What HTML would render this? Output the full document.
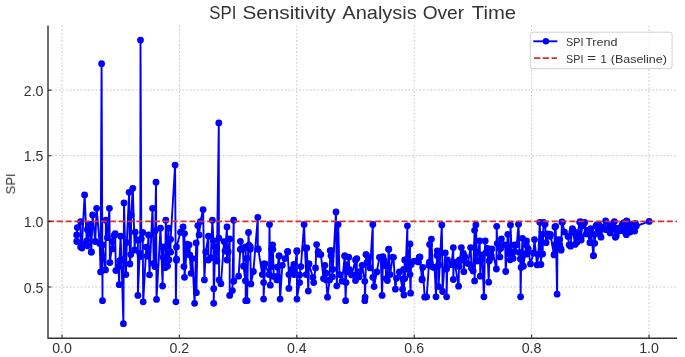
<!DOCTYPE html>
<html><head><meta charset="utf-8"><style>html,body{margin:0;padding:0;background:#fff;}svg{display:block;} text{will-change:transform}</style></head>
<body><svg width="685" height="357" viewBox="0 0 685 357">
<rect width="685" height="357" fill="#fff"/>
<path d="M62.0 25.5V338.2M179.4 25.5V338.2M296.8 25.5V338.2M414.2 25.5V338.2M531.6 25.5V338.2M649.0 25.5V338.2M48 287.0H677M48 221.4H677M48 155.7H677M48 90.1H677" stroke="#cbcbcb" stroke-width="1.0" stroke-dasharray="1.85 1.79" fill="none"/>
<polyline points="76.7,234.9 76.7,241.5 77.3,227.6 80.6,221.6 80.6,246.9 82.0,248.0 82.0,244.1 84.6,195.0 86.7,240.8 87.3,229.6 87.5,245.8 90.0,224.2 91.3,252.0 91.3,252.2 92.6,214.9 95.3,241.5 96.6,208.3 99.7,243.6 100.6,271.9 101.6,63.7 102.5,300.7 102.6,245.0 105.5,269.9 105.9,220.2 107.4,237.7 109.4,208.3 109.9,262.6 112.6,241.5 112.7,248.9 114.2,235.4 115.2,233.6 115.8,270.6 118.4,266.7 119.2,284.7 119.5,261.0 120.6,236.2 121.5,259.4 123.4,323.7 124.0,202.9 125.9,274.6 126.8,242.6 129.1,192.3 129.9,264.0 130.7,254.6 131.2,214.9 132.8,188.3 134.7,250.0 135.2,232.2 137.9,240.2 137.9,295.4 139.7,253.3 140.3,256.5 140.5,40.1 141.3,238.9 142.7,232.5 143.2,301.8 146.3,247.1 147.2,256.0 148.5,234.9 149.5,274.8 152.5,208.3 153.8,263.4 155.0,266.7 155.2,230.9 156.0,182.2 156.5,299.4 160.5,228.2 162.6,286.0 163.2,246.9 163.2,257.3 165.1,267.7 165.8,220.2 167.6,266.1 168.5,228.2 169.0,260.0 169.4,251.2 170.6,252.2 170.6,239.3 175.1,165.1 175.9,301.8 176.5,259.2 176.5,260.2 176.5,247.1 180.5,232.2 183.1,226.9 183.9,266.6 184.5,233.6 184.5,277.3 186.9,249.1 187.1,244.2 187.1,250.6 189.1,245.0 189.8,254.9 191.1,273.3 192.4,258.6 194.6,303.3 196.2,242.9 196.4,292.7 197.8,225.6 199.1,234.9 200.4,221.6 203.1,209.6 204.4,279.9 205.7,252.0 208.4,236.2 208.4,260.0 210.7,257.7 212.4,220.2 213.4,240.8 213.7,288.7 213.7,303.3 215.1,246.9 216.6,248.4 216.9,261.0 218.8,122.9 218.9,238.1 219.1,279.9 220.9,283.7 224.1,241.6 225.0,251.1 227.0,226.9 227.0,260.0 228.2,251.9 229.7,238.9 229.7,295.4 232.4,290.6 233.7,220.2 233.7,281.3 238.6,276.2 240.3,249.5 240.4,241.3 243.0,249.3 243.5,266.2 245.4,280.8 245.7,246.9 245.7,300.7 246.7,258.5 247.1,300.7 248.5,232.5 249.0,245.2 250.3,246.7 250.3,249.2 250.9,283.9 253.4,271.5 257.8,217.3 257.8,248.7 258.3,249.3 262.3,274.6 263.6,264.0 263.6,282.6 263.6,299.1 265.0,263.9 269.0,274.6 269.5,224.5 270.3,285.2 271.6,249.2 271.6,266.6 272.6,244.8 272.9,249.3 273.8,276.4 276.9,279.9 277.4,276.7 277.5,267.2 279.1,255.9 279.1,256.0 280.1,299.1 282.3,265.3 284.9,258.6 287.6,251.4 287.6,252.0 288.9,274.6 288.9,288.4 291.6,269.3 293.6,271.3 293.9,264.5 294.2,274.6 296.9,250.6 296.9,251.4 296.9,299.1 299.6,282.6 299.6,275.0 300.9,266.6 304.1,224.5 304.9,248.0 306.2,274.6 306.8,247.9 308.3,291.1 308.9,263.9 308.9,264.0 312.9,277.3 313.7,282.6 315.5,267.9 316.6,244.6 318.2,251.9 318.2,252.0 318.4,254.2 320.9,254.6 323.5,278.6 324.9,265.3 326.0,273.2 326.2,279.9 327.5,297.2 329.6,279.9 330.2,250.6 331.0,255.7 331.5,250.6 332.4,276.8 332.8,269.3 336.0,212.0 336.8,285.8 338.2,224.5 339.5,274.6 342.1,281.2 344.8,255.9 344.8,256.0 345.6,300.7 346.1,282.6 346.4,264.6 347.5,271.9 348.8,257.2 349.2,269.4 351.6,274.9 355.5,259.9 355.5,280.5 356.8,258.6 356.8,274.6 359.2,276.8 359.5,271.6 362.1,265.3 364.8,281.3 364.8,300.7 365.1,297.2 366.1,254.6 366.1,254.6 366.9,262.6 368.8,257.2 370.1,267.9 372.8,224.5 372.8,277.3 374.1,286.6 376.8,271.9 379.4,257.3 380.7,257.2 382.1,295.4 383.0,256.7 384.1,260.3 384.7,265.3 385.6,265.5 386.1,278.6 387.4,280.6 388.7,249.2 388.7,249.3 390.1,274.6 392.7,257.2 393.5,257.3 395.4,289.2 396.5,278.3 399.4,271.9 402.6,289.2 403.2,278.8 403.6,269.3 403.9,295.0 404.7,259.9 404.7,278.6 406.0,260.0 407.4,225.8 407.4,269.2 410.0,243.9 410.0,274.6 410.6,293.2 411.0,264.7 414.0,261.2 418.4,261.9 419.3,257.2 419.3,257.3 420.0,256.9 422.0,279.9 422.1,279.0 422.7,267.5 424.7,297.2 426.7,296.8 428.9,265.2 429.3,262.2 429.6,244.5 430.2,263.0 431.4,239.1 432.7,267.0 434.6,267.5 436.0,296.8 437.0,255.5 437.3,250.8 438.6,264.9 438.6,286.6 441.8,225.0 442.6,291.5 445.3,252.9 446.6,268.9 446.6,296.8 447.5,259.8 451.5,264.7 453.3,247.6 453.3,279.5 453.8,262.1 455.0,264.3 458.6,286.2 459.0,266.4 459.4,260.0 459.9,260.9 461.3,247.6 463.4,253.5 463.8,271.7 464.8,256.7 467.9,263.6 470.6,247.6 471.6,268.2 471.7,268.1 473.1,271.0 474.6,230.3 474.6,280.9 475.9,225.0 477.1,260.8 477.2,260.9 479.7,240.8 480.3,276.2 481.0,259.7 482.2,254.8 483.9,296.8 485.2,240.9 486.1,252.5 487.4,248.3 488.7,282.2 489.2,260.9 490.1,255.8 491.0,257.6 491.1,254.8 491.9,248.9 496.4,269.0 496.7,226.3 497.2,243.6 499.9,256.9 500.6,248.4 501.4,238.8 505.2,244.9 505.7,271.5 507.8,234.3 508.9,253.9 510.2,259.8 510.5,225.0 511.8,256.9 513.1,258.4 514.5,244.9 514.7,251.6 516.8,244.8 518.5,224.2 519.6,252.6 520.4,259.0 520.6,296.8 521.1,267.5 522.5,238.3 523.4,266.2 526.3,245.3 526.5,240.9 526.5,254.2 526.7,253.3 528.2,248.9 530.5,263.9 533.4,253.2 534.5,239.6 537.1,264.9 538.4,254.2 539.8,222.3 540.9,264.5 542.4,234.3 542.6,254.0 543.5,222.5 545.1,224.2 546.1,242.7 547.9,233.9 550.1,236.4 550.4,234.3 554.0,254.9 554.4,254.2 554.9,226.9 554.9,244.8 555.7,226.3 557.1,294.2 557.5,240.0 559.7,239.6 559.7,244.8 561.0,248.8 561.1,250.2 561.9,222.0 562.4,222.3 564.5,232.1 568.0,236.5 569.1,244.9 570.6,246.2 571.8,232.0 572.4,228.6 572.6,231.2 573.0,230.3 575.0,244.4 575.2,232.7 577.0,242.3 577.7,233.0 579.7,222.3 580.3,221.6 581.0,236.9 581.2,240.0 582.0,226.0 583.7,223.6 584.7,222.5 586.4,233.9 587.2,230.3 589.9,242.7 590.3,230.3 590.8,228.6 593.4,255.8 593.5,255.6 594.3,234.3 594.7,243.3 596.0,226.0 597.0,225.0 598.9,224.9 599.2,229.7 599.5,233.9 599.7,230.3 601.0,237.2 601.3,226.9 601.9,228.9 605.7,220.8 605.7,229.5 606.5,229.5 607.3,228.8 609.3,229.4 609.9,225.5 610.1,233.0 610.9,227.8 611.2,229.0 611.9,229.5 613.6,226.9 614.4,221.6 615.4,237.3 616.3,235.8 617.6,228.7 619.6,229.9 619.7,227.8 620.0,230.8 621.2,229.9 622.3,224.3 623.2,230.4 624.0,222.7 624.0,230.9 625.1,232.1 626.3,234.7 626.7,220.8 627.3,222.0 627.6,226.0 628.3,226.1 630.2,232.1 631.9,225.9 632.8,224.3 633.9,228.0 634.7,231.1 635.4,223.4 636.3,226.0 649.2,221.4" fill="none" stroke="#0000ff" stroke-width="1.9" stroke-linejoin="round"/>
<g fill="#0000ff"><circle cx="76.7" cy="234.9" r="3.4"/><circle cx="76.7" cy="241.5" r="3.4"/><circle cx="77.3" cy="227.6" r="3.4"/><circle cx="80.6" cy="221.6" r="3.4"/><circle cx="80.6" cy="246.9" r="3.4"/><circle cx="82.0" cy="248.0" r="3.4"/><circle cx="82.0" cy="244.1" r="3.4"/><circle cx="84.6" cy="195.0" r="3.4"/><circle cx="86.7" cy="240.8" r="3.4"/><circle cx="87.3" cy="229.6" r="3.4"/><circle cx="87.5" cy="245.8" r="3.4"/><circle cx="90.0" cy="224.2" r="3.4"/><circle cx="91.3" cy="252.0" r="3.4"/><circle cx="91.3" cy="252.2" r="3.4"/><circle cx="92.6" cy="214.9" r="3.4"/><circle cx="95.3" cy="241.5" r="3.4"/><circle cx="96.6" cy="208.3" r="3.4"/><circle cx="99.7" cy="243.6" r="3.4"/><circle cx="100.6" cy="271.9" r="3.4"/><circle cx="101.6" cy="63.7" r="3.4"/><circle cx="102.5" cy="300.7" r="3.4"/><circle cx="102.6" cy="245.0" r="3.4"/><circle cx="105.5" cy="269.9" r="3.4"/><circle cx="105.9" cy="220.2" r="3.4"/><circle cx="107.4" cy="237.7" r="3.4"/><circle cx="109.4" cy="208.3" r="3.4"/><circle cx="109.9" cy="262.6" r="3.4"/><circle cx="112.6" cy="241.5" r="3.4"/><circle cx="112.7" cy="248.9" r="3.4"/><circle cx="114.2" cy="235.4" r="3.4"/><circle cx="115.2" cy="233.6" r="3.4"/><circle cx="115.8" cy="270.6" r="3.4"/><circle cx="118.4" cy="266.7" r="3.4"/><circle cx="119.2" cy="284.7" r="3.4"/><circle cx="119.5" cy="261.0" r="3.4"/><circle cx="120.6" cy="236.2" r="3.4"/><circle cx="121.5" cy="259.4" r="3.4"/><circle cx="123.4" cy="323.7" r="3.4"/><circle cx="124.0" cy="202.9" r="3.4"/><circle cx="125.9" cy="274.6" r="3.4"/><circle cx="126.8" cy="242.6" r="3.4"/><circle cx="129.1" cy="192.3" r="3.4"/><circle cx="129.9" cy="264.0" r="3.4"/><circle cx="130.7" cy="254.6" r="3.4"/><circle cx="131.2" cy="214.9" r="3.4"/><circle cx="132.8" cy="188.3" r="3.4"/><circle cx="134.7" cy="250.0" r="3.4"/><circle cx="135.2" cy="232.2" r="3.4"/><circle cx="137.9" cy="240.2" r="3.4"/><circle cx="137.9" cy="295.4" r="3.4"/><circle cx="139.7" cy="253.3" r="3.4"/><circle cx="140.3" cy="256.5" r="3.4"/><circle cx="140.5" cy="40.1" r="3.4"/><circle cx="141.3" cy="238.9" r="3.4"/><circle cx="142.7" cy="232.5" r="3.4"/><circle cx="143.2" cy="301.8" r="3.4"/><circle cx="146.3" cy="247.1" r="3.4"/><circle cx="147.2" cy="256.0" r="3.4"/><circle cx="148.5" cy="234.9" r="3.4"/><circle cx="149.5" cy="274.8" r="3.4"/><circle cx="152.5" cy="208.3" r="3.4"/><circle cx="153.8" cy="263.4" r="3.4"/><circle cx="155.0" cy="266.7" r="3.4"/><circle cx="155.2" cy="230.9" r="3.4"/><circle cx="156.0" cy="182.2" r="3.4"/><circle cx="156.5" cy="299.4" r="3.4"/><circle cx="160.5" cy="228.2" r="3.4"/><circle cx="162.6" cy="286.0" r="3.4"/><circle cx="163.2" cy="246.9" r="3.4"/><circle cx="163.2" cy="257.3" r="3.4"/><circle cx="165.1" cy="267.7" r="3.4"/><circle cx="165.8" cy="220.2" r="3.4"/><circle cx="167.6" cy="266.1" r="3.4"/><circle cx="168.5" cy="228.2" r="3.4"/><circle cx="169.0" cy="260.0" r="3.4"/><circle cx="169.4" cy="251.2" r="3.4"/><circle cx="170.6" cy="252.2" r="3.4"/><circle cx="170.6" cy="239.3" r="3.4"/><circle cx="175.1" cy="165.1" r="3.4"/><circle cx="175.9" cy="301.8" r="3.4"/><circle cx="176.5" cy="259.2" r="3.4"/><circle cx="176.5" cy="260.2" r="3.4"/><circle cx="176.5" cy="247.1" r="3.4"/><circle cx="180.5" cy="232.2" r="3.4"/><circle cx="183.1" cy="226.9" r="3.4"/><circle cx="183.9" cy="266.6" r="3.4"/><circle cx="184.5" cy="233.6" r="3.4"/><circle cx="184.5" cy="277.3" r="3.4"/><circle cx="186.9" cy="249.1" r="3.4"/><circle cx="187.1" cy="244.2" r="3.4"/><circle cx="187.1" cy="250.6" r="3.4"/><circle cx="189.1" cy="245.0" r="3.4"/><circle cx="189.8" cy="254.9" r="3.4"/><circle cx="191.1" cy="273.3" r="3.4"/><circle cx="192.4" cy="258.6" r="3.4"/><circle cx="194.6" cy="303.3" r="3.4"/><circle cx="196.2" cy="242.9" r="3.4"/><circle cx="196.4" cy="292.7" r="3.4"/><circle cx="197.8" cy="225.6" r="3.4"/><circle cx="199.1" cy="234.9" r="3.4"/><circle cx="200.4" cy="221.6" r="3.4"/><circle cx="203.1" cy="209.6" r="3.4"/><circle cx="204.4" cy="279.9" r="3.4"/><circle cx="205.7" cy="252.0" r="3.4"/><circle cx="208.4" cy="236.2" r="3.4"/><circle cx="208.4" cy="260.0" r="3.4"/><circle cx="210.7" cy="257.7" r="3.4"/><circle cx="212.4" cy="220.2" r="3.4"/><circle cx="213.4" cy="240.8" r="3.4"/><circle cx="213.7" cy="288.7" r="3.4"/><circle cx="213.7" cy="303.3" r="3.4"/><circle cx="215.1" cy="246.9" r="3.4"/><circle cx="216.6" cy="248.4" r="3.4"/><circle cx="216.9" cy="261.0" r="3.4"/><circle cx="218.8" cy="122.9" r="3.4"/><circle cx="218.9" cy="238.1" r="3.4"/><circle cx="219.1" cy="279.9" r="3.4"/><circle cx="220.9" cy="283.7" r="3.4"/><circle cx="224.1" cy="241.6" r="3.4"/><circle cx="225.0" cy="251.1" r="3.4"/><circle cx="227.0" cy="226.9" r="3.4"/><circle cx="227.0" cy="260.0" r="3.4"/><circle cx="228.2" cy="251.9" r="3.4"/><circle cx="229.7" cy="238.9" r="3.4"/><circle cx="229.7" cy="295.4" r="3.4"/><circle cx="232.4" cy="290.6" r="3.4"/><circle cx="233.7" cy="220.2" r="3.4"/><circle cx="233.7" cy="281.3" r="3.4"/><circle cx="238.6" cy="276.2" r="3.4"/><circle cx="240.3" cy="249.5" r="3.4"/><circle cx="240.4" cy="241.3" r="3.4"/><circle cx="243.0" cy="249.3" r="3.4"/><circle cx="243.5" cy="266.2" r="3.4"/><circle cx="245.4" cy="280.8" r="3.4"/><circle cx="245.7" cy="246.9" r="3.4"/><circle cx="245.7" cy="300.7" r="3.4"/><circle cx="246.7" cy="258.5" r="3.4"/><circle cx="247.1" cy="300.7" r="3.4"/><circle cx="248.5" cy="232.5" r="3.4"/><circle cx="249.0" cy="245.2" r="3.4"/><circle cx="250.3" cy="246.7" r="3.4"/><circle cx="250.3" cy="249.2" r="3.4"/><circle cx="250.9" cy="283.9" r="3.4"/><circle cx="253.4" cy="271.5" r="3.4"/><circle cx="257.8" cy="217.3" r="3.4"/><circle cx="257.8" cy="248.7" r="3.4"/><circle cx="258.3" cy="249.3" r="3.4"/><circle cx="262.3" cy="274.6" r="3.4"/><circle cx="263.6" cy="264.0" r="3.4"/><circle cx="263.6" cy="282.6" r="3.4"/><circle cx="263.6" cy="299.1" r="3.4"/><circle cx="265.0" cy="263.9" r="3.4"/><circle cx="269.0" cy="274.6" r="3.4"/><circle cx="269.5" cy="224.5" r="3.4"/><circle cx="270.3" cy="285.2" r="3.4"/><circle cx="271.6" cy="249.2" r="3.4"/><circle cx="271.6" cy="266.6" r="3.4"/><circle cx="272.6" cy="244.8" r="3.4"/><circle cx="272.9" cy="249.3" r="3.4"/><circle cx="273.8" cy="276.4" r="3.4"/><circle cx="276.9" cy="279.9" r="3.4"/><circle cx="277.4" cy="276.7" r="3.4"/><circle cx="277.5" cy="267.2" r="3.4"/><circle cx="279.1" cy="255.9" r="3.4"/><circle cx="279.1" cy="256.0" r="3.4"/><circle cx="280.1" cy="299.1" r="3.4"/><circle cx="282.3" cy="265.3" r="3.4"/><circle cx="284.9" cy="258.6" r="3.4"/><circle cx="287.6" cy="251.4" r="3.4"/><circle cx="287.6" cy="252.0" r="3.4"/><circle cx="288.9" cy="274.6" r="3.4"/><circle cx="288.9" cy="288.4" r="3.4"/><circle cx="291.6" cy="269.3" r="3.4"/><circle cx="293.6" cy="271.3" r="3.4"/><circle cx="293.9" cy="264.5" r="3.4"/><circle cx="294.2" cy="274.6" r="3.4"/><circle cx="296.9" cy="250.6" r="3.4"/><circle cx="296.9" cy="251.4" r="3.4"/><circle cx="296.9" cy="299.1" r="3.4"/><circle cx="299.6" cy="282.6" r="3.4"/><circle cx="299.6" cy="275.0" r="3.4"/><circle cx="300.9" cy="266.6" r="3.4"/><circle cx="304.1" cy="224.5" r="3.4"/><circle cx="304.9" cy="248.0" r="3.4"/><circle cx="306.2" cy="274.6" r="3.4"/><circle cx="306.8" cy="247.9" r="3.4"/><circle cx="308.3" cy="291.1" r="3.4"/><circle cx="308.9" cy="263.9" r="3.4"/><circle cx="308.9" cy="264.0" r="3.4"/><circle cx="312.9" cy="277.3" r="3.4"/><circle cx="313.7" cy="282.6" r="3.4"/><circle cx="315.5" cy="267.9" r="3.4"/><circle cx="316.6" cy="244.6" r="3.4"/><circle cx="318.2" cy="251.9" r="3.4"/><circle cx="318.2" cy="252.0" r="3.4"/><circle cx="318.4" cy="254.2" r="3.4"/><circle cx="320.9" cy="254.6" r="3.4"/><circle cx="323.5" cy="278.6" r="3.4"/><circle cx="324.9" cy="265.3" r="3.4"/><circle cx="326.0" cy="273.2" r="3.4"/><circle cx="326.2" cy="279.9" r="3.4"/><circle cx="327.5" cy="297.2" r="3.4"/><circle cx="329.6" cy="279.9" r="3.4"/><circle cx="330.2" cy="250.6" r="3.4"/><circle cx="331.0" cy="255.7" r="3.4"/><circle cx="331.5" cy="250.6" r="3.4"/><circle cx="332.4" cy="276.8" r="3.4"/><circle cx="332.8" cy="269.3" r="3.4"/><circle cx="336.0" cy="212.0" r="3.4"/><circle cx="336.8" cy="285.8" r="3.4"/><circle cx="338.2" cy="224.5" r="3.4"/><circle cx="339.5" cy="274.6" r="3.4"/><circle cx="342.1" cy="281.2" r="3.4"/><circle cx="344.8" cy="255.9" r="3.4"/><circle cx="344.8" cy="256.0" r="3.4"/><circle cx="345.6" cy="300.7" r="3.4"/><circle cx="346.1" cy="282.6" r="3.4"/><circle cx="346.4" cy="264.6" r="3.4"/><circle cx="347.5" cy="271.9" r="3.4"/><circle cx="348.8" cy="257.2" r="3.4"/><circle cx="349.2" cy="269.4" r="3.4"/><circle cx="351.6" cy="274.9" r="3.4"/><circle cx="355.5" cy="259.9" r="3.4"/><circle cx="355.5" cy="280.5" r="3.4"/><circle cx="356.8" cy="258.6" r="3.4"/><circle cx="356.8" cy="274.6" r="3.4"/><circle cx="359.2" cy="276.8" r="3.4"/><circle cx="359.5" cy="271.6" r="3.4"/><circle cx="362.1" cy="265.3" r="3.4"/><circle cx="364.8" cy="281.3" r="3.4"/><circle cx="364.8" cy="300.7" r="3.4"/><circle cx="365.1" cy="297.2" r="3.4"/><circle cx="366.1" cy="254.6" r="3.4"/><circle cx="366.1" cy="254.6" r="3.4"/><circle cx="366.9" cy="262.6" r="3.4"/><circle cx="368.8" cy="257.2" r="3.4"/><circle cx="370.1" cy="267.9" r="3.4"/><circle cx="372.8" cy="224.5" r="3.4"/><circle cx="372.8" cy="277.3" r="3.4"/><circle cx="374.1" cy="286.6" r="3.4"/><circle cx="376.8" cy="271.9" r="3.4"/><circle cx="379.4" cy="257.3" r="3.4"/><circle cx="380.7" cy="257.2" r="3.4"/><circle cx="382.1" cy="295.4" r="3.4"/><circle cx="383.0" cy="256.7" r="3.4"/><circle cx="384.1" cy="260.3" r="3.4"/><circle cx="384.7" cy="265.3" r="3.4"/><circle cx="385.6" cy="265.5" r="3.4"/><circle cx="386.1" cy="278.6" r="3.4"/><circle cx="387.4" cy="280.6" r="3.4"/><circle cx="388.7" cy="249.2" r="3.4"/><circle cx="388.7" cy="249.3" r="3.4"/><circle cx="390.1" cy="274.6" r="3.4"/><circle cx="392.7" cy="257.2" r="3.4"/><circle cx="393.5" cy="257.3" r="3.4"/><circle cx="395.4" cy="289.2" r="3.4"/><circle cx="396.5" cy="278.3" r="3.4"/><circle cx="399.4" cy="271.9" r="3.4"/><circle cx="402.6" cy="289.2" r="3.4"/><circle cx="403.2" cy="278.8" r="3.4"/><circle cx="403.6" cy="269.3" r="3.4"/><circle cx="403.9" cy="295.0" r="3.4"/><circle cx="404.7" cy="259.9" r="3.4"/><circle cx="404.7" cy="278.6" r="3.4"/><circle cx="406.0" cy="260.0" r="3.4"/><circle cx="407.4" cy="225.8" r="3.4"/><circle cx="407.4" cy="269.2" r="3.4"/><circle cx="410.0" cy="243.9" r="3.4"/><circle cx="410.0" cy="274.6" r="3.4"/><circle cx="410.6" cy="293.2" r="3.4"/><circle cx="411.0" cy="264.7" r="3.4"/><circle cx="414.0" cy="261.2" r="3.4"/><circle cx="418.4" cy="261.9" r="3.4"/><circle cx="419.3" cy="257.2" r="3.4"/><circle cx="419.3" cy="257.3" r="3.4"/><circle cx="420.0" cy="256.9" r="3.4"/><circle cx="422.0" cy="279.9" r="3.4"/><circle cx="422.1" cy="279.0" r="3.4"/><circle cx="422.7" cy="267.5" r="3.4"/><circle cx="424.7" cy="297.2" r="3.4"/><circle cx="426.7" cy="296.8" r="3.4"/><circle cx="428.9" cy="265.2" r="3.4"/><circle cx="429.3" cy="262.2" r="3.4"/><circle cx="429.6" cy="244.5" r="3.4"/><circle cx="430.2" cy="263.0" r="3.4"/><circle cx="431.4" cy="239.1" r="3.4"/><circle cx="432.7" cy="267.0" r="3.4"/><circle cx="434.6" cy="267.5" r="3.4"/><circle cx="436.0" cy="296.8" r="3.4"/><circle cx="437.0" cy="255.5" r="3.4"/><circle cx="437.3" cy="250.8" r="3.4"/><circle cx="438.6" cy="264.9" r="3.4"/><circle cx="438.6" cy="286.6" r="3.4"/><circle cx="441.8" cy="225.0" r="3.4"/><circle cx="442.6" cy="291.5" r="3.4"/><circle cx="445.3" cy="252.9" r="3.4"/><circle cx="446.6" cy="268.9" r="3.4"/><circle cx="446.6" cy="296.8" r="3.4"/><circle cx="447.5" cy="259.8" r="3.4"/><circle cx="451.5" cy="264.7" r="3.4"/><circle cx="453.3" cy="247.6" r="3.4"/><circle cx="453.3" cy="279.5" r="3.4"/><circle cx="453.8" cy="262.1" r="3.4"/><circle cx="455.0" cy="264.3" r="3.4"/><circle cx="458.6" cy="286.2" r="3.4"/><circle cx="459.0" cy="266.4" r="3.4"/><circle cx="459.4" cy="260.0" r="3.4"/><circle cx="459.9" cy="260.9" r="3.4"/><circle cx="461.3" cy="247.6" r="3.4"/><circle cx="463.4" cy="253.5" r="3.4"/><circle cx="463.8" cy="271.7" r="3.4"/><circle cx="464.8" cy="256.7" r="3.4"/><circle cx="467.9" cy="263.6" r="3.4"/><circle cx="470.6" cy="247.6" r="3.4"/><circle cx="471.6" cy="268.2" r="3.4"/><circle cx="471.7" cy="268.1" r="3.4"/><circle cx="473.1" cy="271.0" r="3.4"/><circle cx="474.6" cy="230.3" r="3.4"/><circle cx="474.6" cy="280.9" r="3.4"/><circle cx="475.9" cy="225.0" r="3.4"/><circle cx="477.1" cy="260.8" r="3.4"/><circle cx="477.2" cy="260.9" r="3.4"/><circle cx="479.7" cy="240.8" r="3.4"/><circle cx="480.3" cy="276.2" r="3.4"/><circle cx="481.0" cy="259.7" r="3.4"/><circle cx="482.2" cy="254.8" r="3.4"/><circle cx="483.9" cy="296.8" r="3.4"/><circle cx="485.2" cy="240.9" r="3.4"/><circle cx="486.1" cy="252.5" r="3.4"/><circle cx="487.4" cy="248.3" r="3.4"/><circle cx="488.7" cy="282.2" r="3.4"/><circle cx="489.2" cy="260.9" r="3.4"/><circle cx="490.1" cy="255.8" r="3.4"/><circle cx="491.0" cy="257.6" r="3.4"/><circle cx="491.1" cy="254.8" r="3.4"/><circle cx="491.9" cy="248.9" r="3.4"/><circle cx="496.4" cy="269.0" r="3.4"/><circle cx="496.7" cy="226.3" r="3.4"/><circle cx="497.2" cy="243.6" r="3.4"/><circle cx="499.9" cy="256.9" r="3.4"/><circle cx="500.6" cy="248.4" r="3.4"/><circle cx="501.4" cy="238.8" r="3.4"/><circle cx="505.2" cy="244.9" r="3.4"/><circle cx="505.7" cy="271.5" r="3.4"/><circle cx="507.8" cy="234.3" r="3.4"/><circle cx="508.9" cy="253.9" r="3.4"/><circle cx="510.2" cy="259.8" r="3.4"/><circle cx="510.5" cy="225.0" r="3.4"/><circle cx="511.8" cy="256.9" r="3.4"/><circle cx="513.1" cy="258.4" r="3.4"/><circle cx="514.5" cy="244.9" r="3.4"/><circle cx="514.7" cy="251.6" r="3.4"/><circle cx="516.8" cy="244.8" r="3.4"/><circle cx="518.5" cy="224.2" r="3.4"/><circle cx="519.6" cy="252.6" r="3.4"/><circle cx="520.4" cy="259.0" r="3.4"/><circle cx="520.6" cy="296.8" r="3.4"/><circle cx="521.1" cy="267.5" r="3.4"/><circle cx="522.5" cy="238.3" r="3.4"/><circle cx="523.4" cy="266.2" r="3.4"/><circle cx="526.3" cy="245.3" r="3.4"/><circle cx="526.5" cy="240.9" r="3.4"/><circle cx="526.5" cy="254.2" r="3.4"/><circle cx="526.7" cy="253.3" r="3.4"/><circle cx="528.2" cy="248.9" r="3.4"/><circle cx="530.5" cy="263.9" r="3.4"/><circle cx="533.4" cy="253.2" r="3.4"/><circle cx="534.5" cy="239.6" r="3.4"/><circle cx="537.1" cy="264.9" r="3.4"/><circle cx="538.4" cy="254.2" r="3.4"/><circle cx="539.8" cy="222.3" r="3.4"/><circle cx="540.9" cy="264.5" r="3.4"/><circle cx="542.4" cy="234.3" r="3.4"/><circle cx="542.6" cy="254.0" r="3.4"/><circle cx="543.5" cy="222.5" r="3.4"/><circle cx="545.1" cy="224.2" r="3.4"/><circle cx="546.1" cy="242.7" r="3.4"/><circle cx="547.9" cy="233.9" r="3.4"/><circle cx="550.1" cy="236.4" r="3.4"/><circle cx="550.4" cy="234.3" r="3.4"/><circle cx="554.0" cy="254.9" r="3.4"/><circle cx="554.4" cy="254.2" r="3.4"/><circle cx="554.9" cy="226.9" r="3.4"/><circle cx="554.9" cy="244.8" r="3.4"/><circle cx="555.7" cy="226.3" r="3.4"/><circle cx="557.1" cy="294.2" r="3.4"/><circle cx="557.5" cy="240.0" r="3.4"/><circle cx="559.7" cy="239.6" r="3.4"/><circle cx="559.7" cy="244.8" r="3.4"/><circle cx="561.0" cy="248.8" r="3.4"/><circle cx="561.1" cy="250.2" r="3.4"/><circle cx="561.9" cy="222.0" r="3.4"/><circle cx="562.4" cy="222.3" r="3.4"/><circle cx="564.5" cy="232.1" r="3.4"/><circle cx="568.0" cy="236.5" r="3.4"/><circle cx="569.1" cy="244.9" r="3.4"/><circle cx="570.6" cy="246.2" r="3.4"/><circle cx="571.8" cy="232.0" r="3.4"/><circle cx="572.4" cy="228.6" r="3.4"/><circle cx="572.6" cy="231.2" r="3.4"/><circle cx="573.0" cy="230.3" r="3.4"/><circle cx="575.0" cy="244.4" r="3.4"/><circle cx="575.2" cy="232.7" r="3.4"/><circle cx="577.0" cy="242.3" r="3.4"/><circle cx="577.7" cy="233.0" r="3.4"/><circle cx="579.7" cy="222.3" r="3.4"/><circle cx="580.3" cy="221.6" r="3.4"/><circle cx="581.0" cy="236.9" r="3.4"/><circle cx="581.2" cy="240.0" r="3.4"/><circle cx="582.0" cy="226.0" r="3.4"/><circle cx="583.7" cy="223.6" r="3.4"/><circle cx="584.7" cy="222.5" r="3.4"/><circle cx="586.4" cy="233.9" r="3.4"/><circle cx="587.2" cy="230.3" r="3.4"/><circle cx="589.9" cy="242.7" r="3.4"/><circle cx="590.3" cy="230.3" r="3.4"/><circle cx="590.8" cy="228.6" r="3.4"/><circle cx="593.4" cy="255.8" r="3.4"/><circle cx="593.5" cy="255.6" r="3.4"/><circle cx="594.3" cy="234.3" r="3.4"/><circle cx="594.7" cy="243.3" r="3.4"/><circle cx="596.0" cy="226.0" r="3.4"/><circle cx="597.0" cy="225.0" r="3.4"/><circle cx="598.9" cy="224.9" r="3.4"/><circle cx="599.2" cy="229.7" r="3.4"/><circle cx="599.5" cy="233.9" r="3.4"/><circle cx="599.7" cy="230.3" r="3.4"/><circle cx="601.0" cy="237.2" r="3.4"/><circle cx="601.3" cy="226.9" r="3.4"/><circle cx="601.9" cy="228.9" r="3.4"/><circle cx="605.7" cy="220.8" r="3.4"/><circle cx="605.7" cy="229.5" r="3.4"/><circle cx="606.5" cy="229.5" r="3.4"/><circle cx="607.3" cy="228.8" r="3.4"/><circle cx="609.3" cy="229.4" r="3.4"/><circle cx="609.9" cy="225.5" r="3.4"/><circle cx="610.1" cy="233.0" r="3.4"/><circle cx="610.9" cy="227.8" r="3.4"/><circle cx="611.2" cy="229.0" r="3.4"/><circle cx="611.9" cy="229.5" r="3.4"/><circle cx="613.6" cy="226.9" r="3.4"/><circle cx="614.4" cy="221.6" r="3.4"/><circle cx="615.4" cy="237.3" r="3.4"/><circle cx="616.3" cy="235.8" r="3.4"/><circle cx="617.6" cy="228.7" r="3.4"/><circle cx="619.6" cy="229.9" r="3.4"/><circle cx="619.7" cy="227.8" r="3.4"/><circle cx="620.0" cy="230.8" r="3.4"/><circle cx="621.2" cy="229.9" r="3.4"/><circle cx="622.3" cy="224.3" r="3.4"/><circle cx="623.2" cy="230.4" r="3.4"/><circle cx="624.0" cy="222.7" r="3.4"/><circle cx="624.0" cy="230.9" r="3.4"/><circle cx="625.1" cy="232.1" r="3.4"/><circle cx="626.3" cy="234.7" r="3.4"/><circle cx="626.7" cy="220.8" r="3.4"/><circle cx="627.3" cy="222.0" r="3.4"/><circle cx="627.6" cy="226.0" r="3.4"/><circle cx="628.3" cy="226.1" r="3.4"/><circle cx="630.2" cy="232.1" r="3.4"/><circle cx="631.9" cy="225.9" r="3.4"/><circle cx="632.8" cy="224.3" r="3.4"/><circle cx="633.9" cy="228.0" r="3.4"/><circle cx="634.7" cy="231.1" r="3.4"/><circle cx="635.4" cy="223.4" r="3.4"/><circle cx="636.3" cy="226.0" r="3.4"/><circle cx="649.2" cy="221.4" r="3.4"/></g>
<path d="M48 221.4H677" stroke="#d8302a" stroke-width="1.8" stroke-dasharray="6 2.84" fill="none"/>
<path d="M48 25.5V338.2M47.4 338.2H677" stroke="#333333" stroke-width="1.4" fill="none"/>
<path d="M62.0 338.2v-3.6M179.4 338.2v-3.6M296.8 338.2v-3.6M414.2 338.2v-3.6M531.6 338.2v-3.6M649.0 338.2v-3.6M48 287.0h3.6M48 221.4h3.6M48 155.7h3.6M48 90.1h3.6" stroke="#333333" stroke-width="1.1" fill="none"/>
<text x="62.0" y="353" font-family="Liberation Sans, sans-serif" font-size="14.2" fill="#333333" text-anchor="middle">0.0</text>
<text x="179.4" y="353" font-family="Liberation Sans, sans-serif" font-size="14.2" fill="#333333" text-anchor="middle">0.2</text>
<text x="296.8" y="353" font-family="Liberation Sans, sans-serif" font-size="14.2" fill="#333333" text-anchor="middle">0.4</text>
<text x="414.2" y="353" font-family="Liberation Sans, sans-serif" font-size="14.2" fill="#333333" text-anchor="middle">0.6</text>
<text x="531.6" y="353" font-family="Liberation Sans, sans-serif" font-size="14.2" fill="#333333" text-anchor="middle">0.8</text>
<text x="649.0" y="353" font-family="Liberation Sans, sans-serif" font-size="14.2" fill="#333333" text-anchor="middle">1.0</text>
<text x="43.5" y="292.7" font-family="Liberation Sans, sans-serif" font-size="14.2" fill="#333333" text-anchor="end">0.5</text>
<text x="43.5" y="227.1" font-family="Liberation Sans, sans-serif" font-size="14.2" fill="#333333" text-anchor="end">1.0</text>
<text x="43.5" y="161.4" font-family="Liberation Sans, sans-serif" font-size="14.2" fill="#333333" text-anchor="end">1.5</text>
<text x="43.5" y="95.8" font-family="Liberation Sans, sans-serif" font-size="14.2" fill="#333333" text-anchor="end">2.0</text>
<text transform="translate(15.1 183.8) rotate(-90)" font-family="Liberation Sans, sans-serif" font-size="13" fill="#333333" text-anchor="middle">SPI</text>
<rect x="530.3" y="32.2" width="141.8" height="36.4" rx="2.5" fill="#fff" fill-opacity="0.8" stroke="#cccccc" stroke-width="0.9"/>
<path d="M533.3 41.3H557.4" stroke="#0000ff" stroke-width="1.9"/><circle cx="545.9" cy="41.3" r="3.2" fill="#0000ff"/>
<path d="M534 58.1H557" stroke="#d8302a" stroke-width="1.8" stroke-dasharray="6.3 2.5"/>
<text transform="translate(209.28 19.3) scale(0.9114 1)" font-family="Liberation Sans, sans-serif" font-size="18.4" fill="#333333">SPI</text>
<text transform="translate(242.38 19.3) scale(1.1296 1)" font-family="Liberation Sans, sans-serif" font-size="18.4" fill="#333333">Sensitivity</text>
<text transform="translate(342.29 19.3) scale(1.0885 1)" font-family="Liberation Sans, sans-serif" font-size="18.4" fill="#333333">Analysis</text>
<text transform="translate(422.66 19.3) scale(1.0413 1)" font-family="Liberation Sans, sans-serif" font-size="18.4" fill="#333333">Over</text>
<text transform="translate(471.86 19.3) scale(1.1000 1)" font-family="Liberation Sans, sans-serif" font-size="18.4" fill="#333333">Time</text>
<text transform="translate(566.12 45.6) scale(0.9521 1)" font-family="Liberation Sans, sans-serif" font-size="11.3" fill="#333333">SPI</text>
<text transform="translate(585.17 45.6) scale(1.1103 1)" font-family="Liberation Sans, sans-serif" font-size="11.3" fill="#333333">Trend</text>
<text transform="translate(566.12 62.5) scale(0.9521 1)" font-family="Liberation Sans, sans-serif" font-size="11.3" fill="#333333">SPI</text>
<text transform="translate(586.98 62.2) scale(1.3704 1)" font-family="Liberation Sans, sans-serif" font-size="11.3" fill="#333333">=</text>
<text transform="translate(600.34 62.5) scale(1.0625 1)" font-family="Liberation Sans, sans-serif" font-size="11.3" fill="#333333">1</text>
<text transform="translate(610.83 62.5) scale(1.1030 1)" font-family="Liberation Sans, sans-serif" font-size="11.3" fill="#333333">(Baseline)</text>
</svg></body></html>
